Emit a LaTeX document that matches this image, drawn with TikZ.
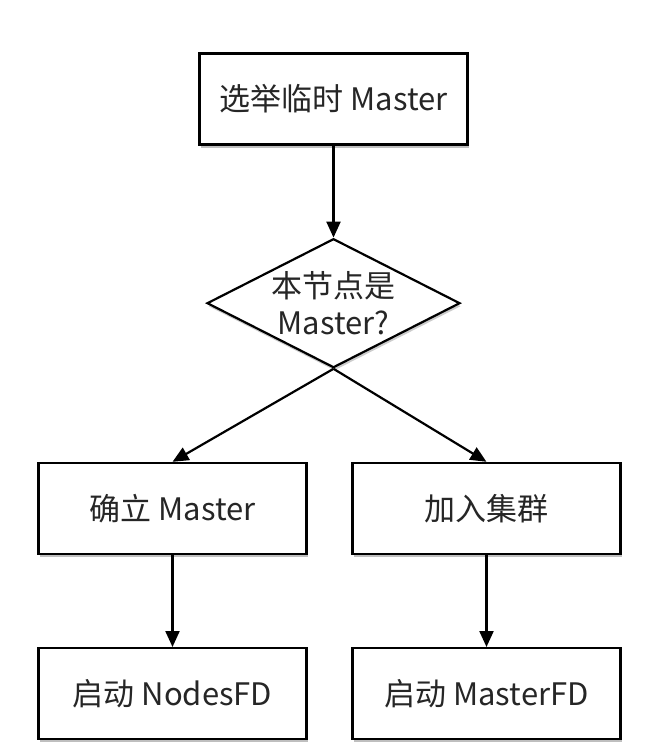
\documentclass[tikz,border=0pt]{standalone}
\usepackage{fontspec}
\setmainfont{Noto Sans CJK SC}
\usepackage{tikz}
\usetikzlibrary{positioning}
\usetikzlibrary{arrows.meta, shapes.geometric, shadows}

\begin{document}
\begin{tikzpicture}[
			font=\fontsize{15.5pt}{18.5pt}\selectfont,
			box/.style={
				draw,
				rectangle,
				line width=1.1pt,
				fill=white,
				text=black!85,
				minimum width=134pt,
				minimum height=45.5pt,
				align=center,
				drop shadow={shadow xshift=0.5pt, shadow yshift=-1.5pt, opacity=0.5}
			},
			decision/.style={
				draw,
				diamond,
				aspect=2,
				inner sep=0pt,
				line width=1.1pt,
				fill=white,
				text=black!85,
				minimum width=126.5pt,
				minimum height=64.5pt,
				align=center,
				drop shadow={shadow xshift=0.5pt, shadow yshift=-1.5pt, opacity=0.4}
			},
			arrow/.style={-{Triangle[length=8pt, width=7pt]}, line width=1.1pt},
			node distance=46pt
			]
			
			\useasboundingbox (0pt,0pt) rectangle (327.5pt,-374.5pt);
			
			% -------------------------------
			% ELECTION
			% -------------------------------
			\node[box] (elect) at (166.75pt,-49.5pt) {选举临时 Master};
			\node[decision, below=46pt of elect] (ismaster) {本节点是\\Master?};
			
			% -------------------------------
			% BRANCHES
			% -------------------------------
			\node[box, below=46.5pt of ismaster, xshift=-80.5pt] (confirm) {确立 Master};
			\node[box, below=46.5pt of ismaster, xshift=76.5pt] (join) {加入集群};
			
			% -------------------------------
			% FAULT DETECTION
			% -------------------------------
			\node[box, below=of confirm] (nodesfd) {启动 NodesFD};
			\node[box, below=of join] (masterfd) {启动 MasterFD};
			
			% -------------------------------
			% ARROWS
			% -------------------------------
			\draw[arrow] (elect.south) -- (ismaster.north);
			\draw[arrow] (ismaster.south) -- (confirm.north);
			\draw[arrow] (ismaster.south) -- (join.north);
			\draw[arrow] (confirm.south) -- (nodesfd.north);
			\draw[arrow] (join.south) -- (masterfd.north);
			
		\end{tikzpicture}
\end{document}
